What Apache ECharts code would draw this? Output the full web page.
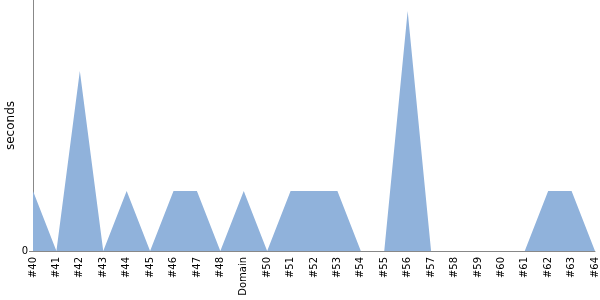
<!DOCTYPE html>
<html><head><meta charset="utf-8">
<script src="https://cdn.jsdelivr.net/npm/echarts@6/dist/echarts.min.js"></script>
<style>html,body{margin:0;padding:0;background:#fff}#c{width:600px;height:300px}</style>
</head><body><div id="c"></div>
<script>
const categories = ['#40','#41','#42','#43','#44','#45','#46','#47','#48','Domain','#50','#51','#52','#53','#54','#55','#56','#57','#58','#59','#60','#61','#62','#63','#64'];
const seconds = [1,0,3,0,1,0,1,1,0,1,0,1,1,1,0,0,4,0,0,0,0,0,1,1,0];
const yTicks = [0];
const chart = echarts.init(document.getElementById('c'), null, {renderer:'canvas'});
chart.setOption({
  animation:false,
  grid:{left:33,right:5,top:0,bottom:49,containLabel:false,outerBoundsMode:'none'},
  xAxis:{type:'category',data:categories,boundaryGap:false,
    axisLine:{lineStyle:{color:'#888',width:1}},
    axisTick:{show:false},
    axisLabel:{rotate:90,interval:0,fontFamily:'DejaVu Sans',fontSize:10,color:'#000',margin:6}},
  yAxis:{type:'value',min:0,max:4.183,name:'seconds',nameLocation:'middle',nameGap:16,nameMoveOverlap:false,
    nameTextStyle:{fontFamily:'DejaVu Sans',fontSize:12,color:'#000'},
    axisLine:{show:true,lineStyle:{color:'#888'}},
    axisTick:{show:true,length:4,customValues:yTicks,lineStyle:{color:'#888'}},
    splitLine:{show:false},
    axisLabel:{fontFamily:'DejaVu Sans',fontSize:10,color:'#000',margin:5,customValues:yTicks,
      formatter:v=>String(v)}},
  series:[{type:'line',data:seconds,symbol:'none',lineStyle:{width:0},
    areaStyle:{color:'#90b2db',opacity:1}}]
});
</script></body></html>
